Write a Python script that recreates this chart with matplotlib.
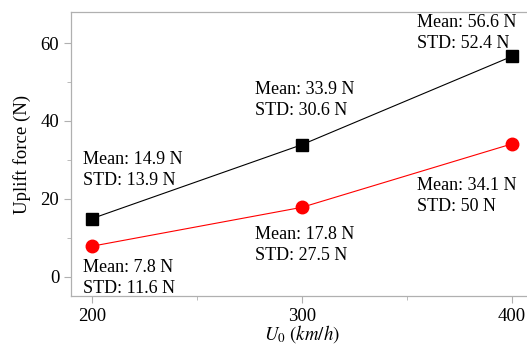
import numpy as np
import matplotlib.pyplot as plt

plt.rcParams['font.family'] = ['Liberation Serif', 'DejaVu Serif']
plt.rcParams['mathtext.fontset'] = 'stix'

speed = [200, 300, 400]
mean_black = [14.9, 33.9, 56.6]
std_black = [13.9, 30.6, 52.4]
mean_red = [7.8, 17.8, 34.1]
std_red = [11.6, 27.5, 50.0]

fig = plt.figure(figsize=(5.27, 3.47), dpi=100)
ax = fig.add_axes([71/527, 51/347, 462/527, 284/347])

ax.plot(speed, mean_black, color='black', lw=0.8, marker='s', ms=8)
ax.plot(speed, mean_red, color='red', lw=0.8, marker='o', ms=9)

def fmt(v):
    return ('%.1f' % v).rstrip('0').rstrip('.')

# label anchor positions (data coords, left-center of each two-line block)
lab_x = [195.7, 277.6, 354.8]
lab_y_black = [27.3, 45.3, 62.5]
lab_y_red = [-0.3, 8.2, 20.6]

for i in range(3):
    ax.text(lab_x[i], lab_y_black[i],
            'Mean: %s N\nSTD: %s N' % (fmt(mean_black[i]), fmt(std_black[i])),
            ha='left', va='center', fontsize=13, linespacing=1.3)
    ax.text(lab_x[i], lab_y_red[i],
            'Mean: %s N\nSTD: %s N' % (fmt(mean_red[i]), fmt(std_red[i])),
            ha='left', va='center', fontsize=13, linespacing=1.3)

ax.set_xlim(190, 410)
ax.set_ylim(-5, 68)
ax.set_xticks([200, 300, 400])
ax.set_xticks([250, 350], minor=True)
ax.set_yticks([0, 20, 40, 60])
ax.set_yticks([10, 30, 50], minor=True)

gray = '#b0b0b0'
for s in ax.spines.values():
    s.set_color(gray)
    s.set_linewidth(0.9)
ax.tick_params(which='both', direction='out', color=gray, labelsize=13.5)
ax.tick_params(which='major', length=5)
ax.tick_params(which='minor', length=3)

ax.set_ylabel('Uplift force (N)', fontsize=13.5, labelpad=7)
ax.set_xlabel(r'$U_0$ $(km/h)$', fontsize=13.5, labelpad=-1)

fig.savefig('out.png', dpi=100)
